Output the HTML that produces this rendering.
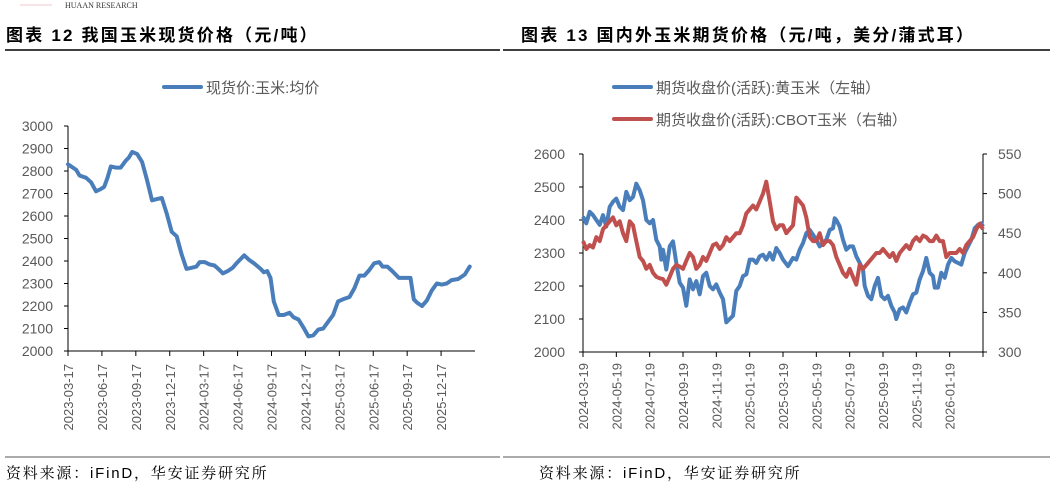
<!DOCTYPE html>
<html><head><meta charset="utf-8"><style>
body{margin:0;background:#fff;width:1056px;height:487px;overflow:hidden;font-family:"Liberation Sans","Noto Sans CJK SC",sans-serif}
svg{position:absolute;left:0;top:0}
</style></head><body>
<svg id="s" width="1056" height="487">
<text x="65" y="8" font-size="8" fill="#333" font-family="Liberation Serif, serif">HUAAN RESEARCH</text>
<line x1="20" y1="5" x2="52" y2="5" stroke="#f2c8cf" stroke-width="1"/>
<text x="6" y="41" font-size="17" font-weight="bold" letter-spacing="2.2" fill="#000" font-family="Liberation Sans, Noto Sans CJK SC, sans-serif">图表 12 我国玉米现货价格（元/吨）</text>
<text x="521" y="41" font-size="17" font-weight="bold" letter-spacing="2.2" fill="#000" font-family="Liberation Sans, Noto Sans CJK SC, sans-serif">图表 13 国内外玉米期货价格（元/吨，美分/蒲式耳）</text>
<line x1="5" y1="50" x2="500" y2="50" stroke="#000" stroke-width="1.5"/>
<line x1="503" y1="50" x2="1050" y2="50" stroke="#000" stroke-width="1.5"/>
<line x1="5" y1="457" x2="500" y2="457" stroke="#555" stroke-width="1"/>
<line x1="503" y1="457" x2="1050" y2="457" stroke="#555" stroke-width="1"/>
<text x="6" y="478" font-size="15" letter-spacing="1.8" fill="#000" font-family="Liberation Sans, Noto Serif CJK SC, serif">资料来源：iFinD，华安证券研究所</text>
<text x="539" y="478" font-size="15" letter-spacing="1.8" fill="#000" font-family="Liberation Sans, Noto Serif CJK SC, serif">资料来源：iFinD，华安证券研究所</text>
<line x1="164" y1="87" x2="201" y2="87" stroke="#4a7ebb" stroke-width="4" stroke-linecap="round"/>
<text x="206" y="93" font-size="15" fill="#595959">现货价:玉米:均价</text>
<line x1="614" y1="87" x2="651" y2="87" stroke="#4a7ebb" stroke-width="4" stroke-linecap="round"/>
<text x="656" y="93" font-size="15" fill="#595959">期货收盘价(活跃):黄玉米（左轴）</text>
<line x1="614" y1="119" x2="651" y2="119" stroke="#c0504d" stroke-width="4" stroke-linecap="round"/>
<text x="656" y="125" font-size="15" fill="#595959">期货收盘价(活跃):CBOT玉米（右轴）</text>
<g id="L"></g><g id="R"></g>
</svg>
<script>
// ---- Left chart data (months since 2023-03-17) ----
const leftXTicks=["2023-03-17","2023-06-17","2023-09-17","2023-12-17","2024-03-17","2024-06-17","2024-09-17","2024-12-17","2025-03-17","2025-06-17","2025-09-17","2025-12-17"];
const leftYTicks=[2000,2100,2200,2300,2400,2500,2600,2700,2800,2900,3000];
const spotZ=[205,230,240,260,275,290,305,315,325,335,350,365,380,390,400,415,430,445,460,475,490,505,520,535,550,565,580,595,605,620,635,650,665,675,690,705,720,740,755,770,790,800,810,820,830,845,860,878,890,905,920,935,950,965,980,995,1010,1025,1040,1060,1075,1090,1105,1120,1135,1150,1160,1175,1190,1200,1210,1225,1245,1255,1265,1280,1295,1310,1325,1340,1355,1370,1390,1410,1425];
const spotV=[2830,2805,2780,2770,2750,2710,2720,2730,2770,2820,2815,2815,2845,2860,2885,2875,2840,2760,2670,2675,2680,2610,2530,2510,2430,2365,2370,2375,2395,2395,2385,2380,2360,2345,2355,2370,2395,2425,2405,2390,2365,2350,2355,2325,2220,2160,2160,2170,2150,2140,2105,2065,2070,2095,2100,2130,2160,2220,2230,2240,2280,2335,2335,2360,2390,2395,2375,2375,2355,2340,2325,2325,2325,2230,2215,2200,2225,2270,2300,2295,2300,2315,2320,2340,2375];
// ---- Right chart data (zoom-x positions -> months since 2024-03-19) ----
const rightXTicks=["2024-03-19","2024-05-19","2024-07-19","2024-09-19","2024-11-19","2025-01-19","2025-03-19","2025-05-19","2025-07-19","2025-09-19","2025-11-19","2026-01-19"];
const rightYTicksL=[2000,2100,2200,2300,2400,2500,2600];
const rightYTicksR=[300,350,400,450,500,550];
const dceZ=[160,170,180,190,200,210,220,230,240,250,260,270,280,290,300,310,320,330,340,350,360,370,380,390,395,400,410,420,430,440,450,460,470,480,490,500,510,520,530,540,550,560,570,580,590,600,610,620,630,640,650,660,670,680,690,700,710,720,730,740,750,760,775,790,800,810,820,830,840,850,860,870,880,890,900,910,915,920,930,940,950,960,970,980,990,1000,1005,1015,1025,1035,1045,1055,1065,1075,1085,1095,1100,1110,1120,1130,1140,1150,1160,1170,1180,1190,1200,1210,1215,1225,1235,1245,1255,1265,1275,1285,1295,1305,1315,1325,1335,1345,1355,1360];
const dceV=[2410,2390,2425,2415,2400,2385,2415,2380,2440,2455,2465,2440,2430,2485,2460,2470,2510,2490,2460,2400,2390,2400,2340,2320,2280,2310,2250,2320,2335,2270,2210,2195,2140,2220,2190,2215,2175,2230,2240,2200,2190,2205,2180,2160,2090,2100,2110,2185,2200,2230,2235,2280,2280,2270,2290,2295,2280,2300,2280,2315,2300,2280,2260,2285,2280,2310,2330,2360,2370,2355,2340,2320,2330,2340,2370,2375,2405,2400,2380,2340,2310,2320,2320,2290,2270,2250,2200,2170,2160,2200,2225,2170,2160,2170,2140,2120,2100,2130,2135,2120,2150,2175,2180,2220,2245,2285,2240,2230,2195,2195,2240,2225,2265,2285,2275,2270,2265,2300,2320,2340,2375,2385,2390,2380];
const cbotZ=[160,170,180,190,200,210,220,230,240,250,260,270,280,290,300,310,320,330,340,350,360,370,380,390,400,410,420,430,440,450,460,470,480,490,500,510,520,530,540,550,560,570,580,590,600,610,620,630,640,650,660,670,680,690,700,710,720,730,740,750,760,770,780,790,800,810,820,830,840,850,860,870,880,890,900,910,920,930,940,950,960,970,980,990,1000,1010,1020,1030,1040,1050,1060,1070,1080,1090,1100,1110,1120,1130,1140,1150,1160,1170,1180,1190,1200,1210,1220,1230,1240,1250,1260,1270,1280,1290,1300,1310,1320,1330,1340,1350,1360];
const cbotV=[440,430,435,432,445,440,455,460,465,470,460,465,450,440,465,460,440,420,415,405,410,400,395,393,392,385,395,405,410,408,405,415,425,420,405,410,420,415,425,435,437,430,435,445,440,445,450,450,460,475,480,485,480,490,500,515,490,465,455,460,460,450,455,460,495,490,485,470,445,440,440,450,435,440,440,435,420,410,400,395,405,395,385,410,405,410,415,420,425,425,430,425,420,425,415,425,430,435,430,440,445,440,447,445,440,440,447,440,440,420,425,425,425,430,425,435,440,445,455,462,455];

const NS="http://www.w3.org/2000/svg";
function mk(p,t,a){const e=document.createElementNS(NS,t);for(const k in a)e.setAttribute(k,a[k]);p.appendChild(e);return e;}
const gray="#595959";

// Left chart
const L=document.getElementById('L');
const lx0=68,lx1=475,ly0=351,ly1=126;
const lxs=m=>lx0+m*(lx1-lx0)/36;
const lys=v=>ly0-(v-2000)*(ly0-ly1)/1000;
let ax=mk(L,'line',{x1:lx0,y1:ly1,x2:lx0,y2:ly0,stroke:'#000'});

ax=mk(L,'line',{x1:lx0,y1:ly0,x2:lx1,y2:ly0,stroke:'#000'});

leftYTicks.forEach(v=>{
  mk(L,'line',{x1:lx0-4,x2:lx0,y1:lys(v),y2:lys(v),stroke:'#000'});
  const t=mk(L,'text',{x:lx0-15,y:lys(v)+5,'font-size':14,fill:gray,'text-anchor':'end'});t.textContent=v;
  
});
leftXTicks.forEach((d,i)=>{
  const x=lxs(i*3);
  mk(L,'line',{x1:x,x2:x,y1:ly0,y2:ly0+5,stroke:'#000'});
  const t=mk(L,'text',{x:0,y:0,'font-size':13,fill:gray,'text-anchor':'end',transform:`translate(${x+5},${ly0+13}) rotate(-90)`});t.textContent=d;
  
});
let p=mk(L,'path',{d:spotZ.map((z,i)=>(i?'L':'M')+lxs((z-205)/103*3).toFixed(1)+','+lys(spotV[i]).toFixed(1)).join(''),fill:'none',stroke:'#4a7ebb','stroke-width':4,'stroke-linejoin':'round','stroke-linecap':'round'});


// Right chart
const R=document.getElementById('R');
const rx0=583,rx1=983,ry0=352,ry1=154;
const rxs=m=>rx0+m*(rx1-rx0)/24;
const ryl=v=>ry0-(v-2000)*(ry0-ry1)/600;
const ryr=v=>ry0-(v-300)*(ry0-ry1)/250;
ax=mk(R,'line',{x1:rx0,y1:ry1,x2:rx0,y2:ry0,stroke:'#000'});

ax=mk(R,'line',{x1:rx1,y1:ry1,x2:rx1,y2:ry0,stroke:'#000'});

ax=mk(R,'line',{x1:rx0,y1:ry0,x2:rx1,y2:ry0,stroke:'#000'});

rightYTicksL.forEach(v=>{
  mk(R,'line',{x1:rx0-4,x2:rx0,y1:ryl(v),y2:ryl(v),stroke:'#000'});
  const t=mk(R,'text',{x:rx0-18,y:ryl(v)+5,'font-size':14,fill:gray,'text-anchor':'end'});t.textContent=v;
  
});
rightYTicksR.forEach(v=>{
  mk(R,'line',{x1:rx1,x2:rx1+4,y1:ryr(v),y2:ryr(v),stroke:'#000'});
  const t=mk(R,'text',{x:rx1+15,y:ryr(v)+5,'font-size':14,fill:gray});t.textContent=v;
  
});
rightXTicks.forEach((d,i)=>{
  const x=rxs(i*2);
  mk(R,'line',{x1:x,x2:x,y1:ry0,y2:ry0+5,stroke:'#000'});
  const t=mk(R,'text',{x:0,y:0,'font-size':13,fill:gray,'text-anchor':'end',transform:`translate(${x+5},${ry0+11}) rotate(-90)`});t.textContent=d;
  
});
mk(R,'line',{x1:rx1,x2:rx1,y1:ry0,y2:ry0+5,stroke:'#000'});
p=mk(R,'path',{d:dceZ.map((z,i)=>(i?'L':'M')+rxs((z-160)/50).toFixed(1)+','+ryl(dceV[i]).toFixed(1)).join(''),fill:'none',stroke:'#4a7ebb','stroke-width':4,'stroke-linejoin':'round'});

p=mk(R,'path',{d:cbotZ.map((z,i)=>(i?'L':'M')+rxs((z-160)/50).toFixed(1)+','+ryr(cbotV[i]).toFixed(1)).join(''),fill:'none',stroke:'#c0504d','stroke-width':4,'stroke-linejoin':'round'});

</script>
</body></html>
